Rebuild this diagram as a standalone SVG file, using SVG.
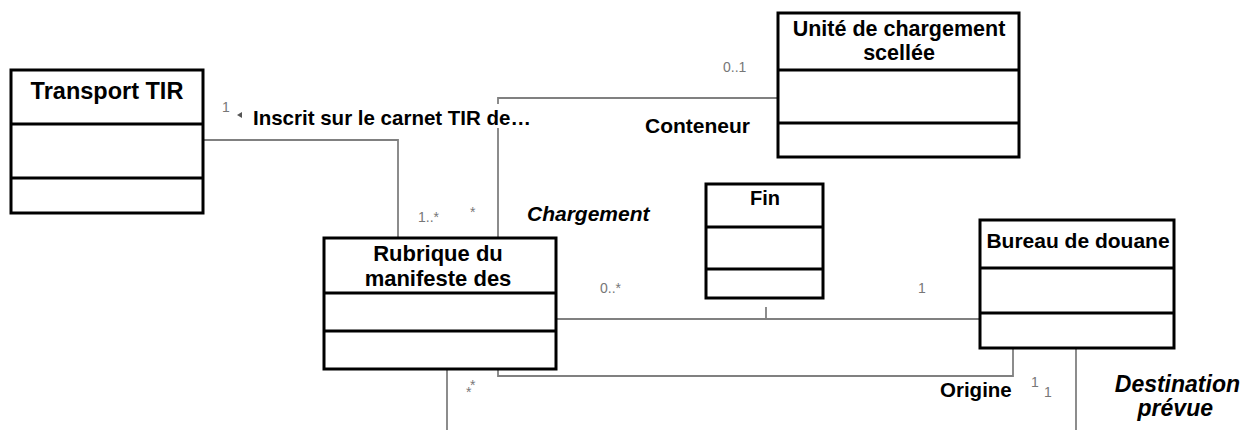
<svg xmlns="http://www.w3.org/2000/svg" width="1244" height="430" viewBox="0 0 1244 430">
<style>
.box{fill:#fff;stroke:#000;stroke-width:3}
.div{stroke:#000;stroke-width:3}
.t{font-family:"Liberation Sans",Arial,sans-serif;font-weight:bold;fill:#000;text-anchor:middle}
.lbl{font-family:"Liberation Sans",Arial,sans-serif;font-weight:bold;fill:#000}
.it{font-style:italic}
.m{font-family:"Liberation Sans",Arial,sans-serif;fill:#777;font-size:14px}
.c{fill:none;stroke:#808080;stroke-width:1.8}
</style>
<rect width="1244" height="430" fill="#fff"/>
<g id="connectors">
<path class="c" d="M203,140 H398 V238"/>
<path class="c" d="M778,98 H498 V238"/>
<path class="c" d="M556,319 H980"/>
<path class="c" d="M766,307 V319"/>
<path class="c" d="M498,369 V376 H1013 V348"/>
<path class="c" d="M1076,348 V430"/>
<path class="c" d="M447,369 V430"/>
</g>
<g id="labels">
<rect x="248" y="104" width="298" height="24" fill="#fff"/>
<text class="m" x="222" y="112" font-size="12">1</text>
<polygon points="237,115 242,112 242,118" fill="#555"/>
<text class="lbl" x="253" y="125" font-size="20.5">Inscrit sur le carnet TIR de…</text>
<text class="m" x="723" y="72">0..1</text>
<text class="lbl" x="645" y="133" font-size="21">Conteneur</text>
<text class="m" x="418" y="222">1..*</text>
<text class="m" x="470" y="217">*</text>
<text class="lbl it" x="527" y="221" font-size="21">Chargement</text>
<text class="m" x="600" y="293">0..*</text>
<text class="m" x="918" y="293">1</text>
<text class="m" x="470" y="390">*</text>
<text class="m" x="466" y="397">*</text>
<text class="lbl" x="940" y="397" font-size="20.5">Origine</text>
<text class="m" x="1031" y="387" font-size="12">1</text>
<text class="m" x="1044" y="397">1</text>
<text class="lbl it" x="1240" y="392" font-size="23" text-anchor="end">Destination</text>
<text class="lbl it" x="1213" y="416" font-size="23" text-anchor="end">prévue</text>
</g>
<g id="transport">
<rect class="box" x="11" y="70" width="192" height="143"/>
<line class="div" x1="11" y1="124" x2="203" y2="124"/>
<line class="div" x1="11" y1="178" x2="203" y2="178"/>
<text class="t" x="107" y="99" font-size="23.5">Transport TIR</text>
</g>
<g id="unite">
<rect class="box" x="778" y="13" width="241" height="144"/>
<line class="div" x1="778" y1="70" x2="1019" y2="70"/>
<line class="div" x1="778" y1="123" x2="1019" y2="123"/>
<text class="t" x="899" y="36" font-size="21.5">Unité de chargement</text>
<text class="t" x="899" y="60" font-size="21.5">scellée</text>
</g>
<g id="fin">
<rect class="box" x="706" y="184" width="117" height="114"/>
<line class="div" x1="706" y1="227" x2="823" y2="227"/>
<line class="div" x1="706" y1="269" x2="823" y2="269"/>
<text class="t" x="765" y="205" font-size="20">Fin</text>
</g>
<g id="rubrique">
<rect class="box" x="324" y="238" width="232" height="131"/>
<line class="div" x1="324" y1="293" x2="556" y2="293"/>
<line class="div" x1="324" y1="331" x2="556" y2="331"/>
<text class="t" x="438" y="261" font-size="22">Rubrique du</text>
<text class="t" x="438" y="286" font-size="22">manifeste des</text>
</g>
<g id="bureau">
<rect class="box" x="980" y="220" width="194" height="128"/>
<line class="div" x1="980" y1="268" x2="1174" y2="268"/>
<line class="div" x1="980" y1="313" x2="1174" y2="313"/>
<text class="t" x="1078" y="248" font-size="21">Bureau de douane</text>
</g>
</svg>
